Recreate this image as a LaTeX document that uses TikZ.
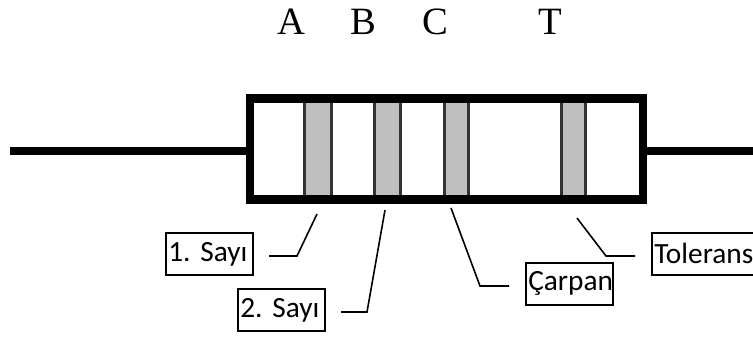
\documentclass[tikz,border=0pt]{standalone}
\usepackage{fontspec}
\setmainfont{Carlito}
\newfontfamily\letterfont{Liberation Serif}
\frenchspacing
\tikzset{
  lead/.style={line width=6.4pt},
  band/.style={fill={rgb, 255:red, 191; green, 191; blue, 191},draw=black!80,line width=2.2pt},
  labelbox/.style={draw,line width=1.3pt,anchor=north west,inner xsep=1.8pt,inner ysep=0pt,minimum height=31.5pt,align=left,font=\fontsize{22}{24}\selectfont},
  letter/.style={inner sep=0.75pt,font=\letterfont\fontsize{29}{34}\selectfont},
  pointer/.style={line width=1.2pt}
}
\begin{document}
\begin{tikzpicture}[x=0.75pt,y=0.75pt,yscale=-1,xscale=1]
\useasboundingbox (0,0) rectangle (753,336);

%Leads
\draw [lead] (10,151) -- (247,151);
\draw [lead] (647,151) -- (753,151);
%Bands
\draw [band] (304.5,99) rectangle (331.5,199);
\draw [band] (374.5,99) rectangle (400.5,199);
\draw [band] (444.5,99) rectangle (468.5,199);
\draw [band] (561.5,99) rectangle (585.5,199);
%Body
\draw [lead] (250,98.5) rectangle (643,199.5);

% Text Node
\node (letterA) [letter] at (291,22) {A};
\node (letterB) [letter] at (363,22) {B};
\node (letterC) [letter] at (435,22) {C};
\node (letterT) [letter] at (550,22) {T};
% Text Node
\node (firstdigit) [labelbox,text width=62pt] at (165,232) {1. Sayı};
\node (seconddigit) [labelbox,text width=62pt] at (237,288) {2. Sayı};
\node (multiplier) [labelbox,text width=62pt] at (525,262) {Çarpan};
\node (tolerance) [labelbox,text width=80pt] at (651,232) {Tolerans};

% Pointer ends
\coordinate (firstend) at (269,256);
\coordinate (firstband) at (317,214);
\coordinate (secondend) at (341,312);
\coordinate (secondband) at (385,210);
\coordinate (multend) at (509,286);
\coordinate (multband) at (451,208);
\coordinate (tolend) at (635,256);
\coordinate (tolband) at (577,218);
%Straight Lines
\draw [pointer] (firstend) -- (297,256) -- (firstband);
\draw [pointer] (secondend) -- (367,312) -- (secondband);
\draw [pointer] (multend) -- (480,286) -- (multband);
\draw [pointer] (tolend) -- (606,256) -- (tolband);
\end{tikzpicture}
\end{document}
